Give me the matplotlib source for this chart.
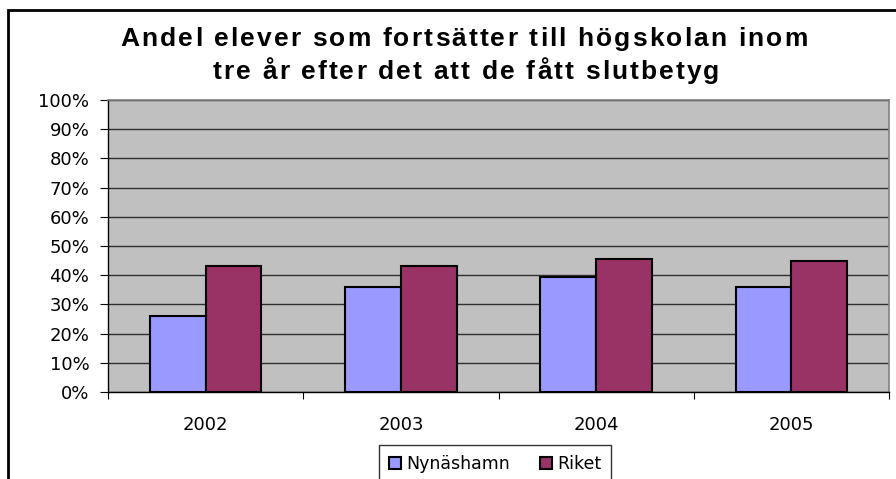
import numpy as np
import matplotlib
matplotlib.use("Agg")
import matplotlib.pyplot as plt
from matplotlib.patches import Rectangle
from matplotlib.font_manager import FontProperties
from matplotlib.ticker import FuncFormatter, MultipleLocator

plt.rcParams['font.family'] = ['DejaVu Sans']

# data
years = ['2002', '2003', '2004', '2005']
nynashamn = [0.26, 0.36, 0.395, 0.36]
riket = [0.43, 0.43, 0.455, 0.45]
series_names = ['Nynäshamn', 'Riket']
title_lines = ['Andel elever som fortsätter till högskolan inom',
               'tre år efter det att de fått slutbetyg']

W, H = 896, 479
fig = plt.figure(figsize=(W / 100, H / 100), dpi=100)
fig.patch.set_facecolor('white')

# ram runt hela diagrammet (höger/nederkant utanför bilden)
fig.patches.append(Rectangle((8 / W, -0.1), 1.2, 1 - 10 / H + 0.1, transform=fig.transFigure,
                             fill=False, edgecolor='black', linewidth=2, zorder=0))

ax = fig.add_axes([108 / W, 1 - 392 / H, (889 - 108) / W, (392 - 100) / H])
ax.set_facecolor('#C0C0C0')

x = np.arange(len(years))
bw = 1 / 3.5
ax.bar(x - bw / 2, nynashamn, bw, color='#9999FF', edgecolor='black', linewidth=1.5, zorder=3, label=series_names[0])
ax.bar(x + bw / 2, riket, bw, color='#993366', edgecolor='black', linewidth=1.5, zorder=3, label=series_names[1])

ax.set_xlim(-0.5, len(years) - 0.5)
ax.set_ylim(0, 1)
ax.yaxis.set_major_locator(MultipleLocator(0.1))
ax.yaxis.set_major_formatter(FuncFormatter(lambda v, p: f'{v * 100:.0f}%'))
ax.grid(axis='y', color='#303030', linewidth=1, zorder=1)

ax.set_xticks(np.arange(len(years) + 1) - 0.5)
ax.set_xticklabels([])
ax.set_xticks(x, minor=True)
ax.set_xticklabels(years, minor=True)
ax.tick_params(axis='x', which='major', direction='out', length=5, color='black')
ax.tick_params(axis='x', which='minor', length=0, labelsize=13, pad=17)
ax.tick_params(axis='y', direction='out', length=5.5, labelsize=13, pad=8)

for s in ['top', 'right']:
    ax.spines[s].set_color('#808080')
    ax.spines[s].set_linewidth(1.2)
for s in ['left', 'bottom']:
    ax.spines[s].set_color('black')
    ax.spines[s].set_linewidth(1)

# titel med extra teckenavstånd (som i Excel-bilden)
fp_title = FontProperties(family='Liberation Sans', weight='bold', size=19)
r = fig.canvas.get_renderer()


def textbredd(s):
    return r.get_text_width_height_descent(s, fp_title, ismath=False)[0]


def spaced_line(line, cx, baseline, spacing):
    total = textbredd(line) + spacing * (len(line) - 1)
    x0 = cx - total / 2
    for i, ch in enumerate(line):
        if ch == ' ':
            continue
        xi = x0 + textbredd(line[:i + 1]) - textbredd(ch) + i * spacing
        fig.text(xi / W, 1 - baseline / H, ch, ha='left', va='baseline', fontproperties=fp_title)


spaced_line(title_lines[0], 464, 46, 2.1)
spaced_line(title_lines[1], 466, 79, 2.1)

leg = fig.legend(loc='upper center', bbox_to_anchor=(495 / W, 1 - 445 / H), ncol=2,
                 fontsize=12.5, frameon=True, fancybox=False, borderaxespad=0,
                 handlelength=0.7, handleheight=0.7, handletextpad=0.3, columnspacing=1.7,
                 borderpad=0.6)
leg.get_frame().set_edgecolor('black')
leg.get_frame().set_linewidth(1)

fig.savefig('out.png', dpi=100)
